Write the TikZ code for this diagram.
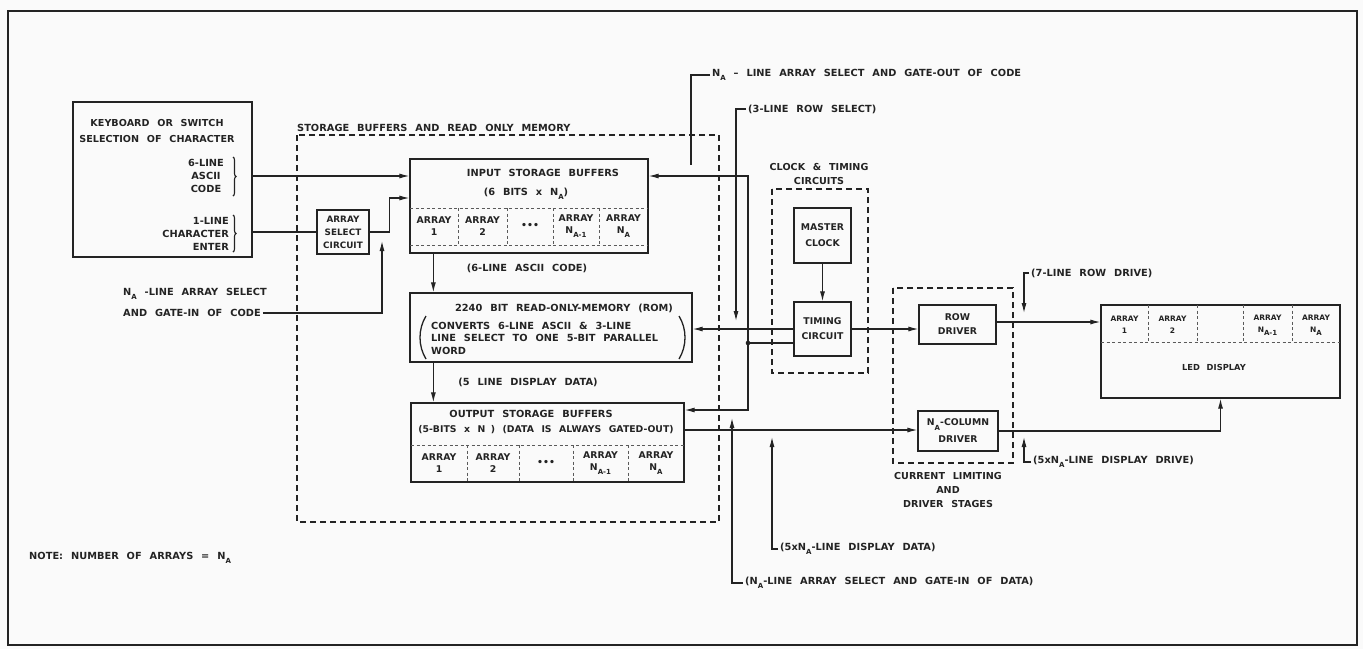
\documentclass[tikz,border=0pt]{standalone}
\usepackage{fontspec}
\setmainfont[UprightFont=* Bold, LetterSpace=0.3, WordSpace=2.3]{DejaVu Sans}
\usetikzlibrary{arrows.meta,decorations.pathreplacing}
\definecolor{inkc}{RGB}{35,35,35}
\definecolor{bgc}{RGB}{250,250,250}
\newcommand{\sbs}[1]{\raisebox{-0.8ex}{\fontsize{7}{7}\selectfont #1}}
\begin{document}
\begin{tikzpicture}[x=1pt,y=-1pt,
  frame/.style={draw=inkc, line width=1.4pt},
  box/.style={draw=inkc, line width=1.3pt, inner sep=0pt},
  grp/.style={draw=inkc, line width=2.8pt, dash pattern=on 6pt off 4pt},
  sep/.style={draw=inkc!75, line width=0.7pt, dash pattern=on 3pt off 2.5pt},
  wire/.style={draw=inkc, line width=1.1pt},
  arr/.style={wire, -{Latex[length=10pt,width=5pt]}},
  txt/.style={font=\fontsize{9.8}{13}\selectfont, text=inkc, inner sep=0pt, align=center},
  boxt/.style={box, txt},
  lbl/.style={txt, anchor=west, inner xsep=2pt},
  cell/.style={txt, font=\fontsize{9.3}{12}\selectfont},
  ledcell/.style={txt, font=\fontsize{7.5}{12}\selectfont},
  paren/.style={draw=inkc, line width=1.3pt}
]
\useasboundingbox (0,0) rectangle (1363,649);
\fill[bgc] (0,0) rectangle (1363,649);
\draw[frame] (8,11) rectangle (1357,645);

% ---- dashed groups
\draw[grp] (297,135) rectangle (719,522);
\node[txt, anchor=south west] (storagelbl) at (297,132) {STORAGE BUFFERS AND READ ONLY MEMORY};
\draw[grp] (772,189) rectangle (868,373);
\node[txt, font=\fontsize{9.6}{14}\selectfont] (clocklbl) at (819,174) {CLOCK \& TIMING\\CIRCUITS};
\draw[grp] (893,288) rectangle (1013,463);
\node[txt, font=\fontsize{9.6}{14}\selectfont] (curlbl) at (948,490) {CURRENT LIMITING\\AND\\DRIVER STAGES};

% ---- keyboard
\node[box, minimum width=179pt, minimum height=155pt] (kb) at (162.5,179.5) {};
\node[txt, font=\fontsize{9.6}{16}\selectfont] (kbtitle) at (157,131) {KEYBOARD OR SWITCH\\SELECTION OF CHARACTER};
\node[txt] (kbascii) at (206,176) {6-LINE\\ASCII\\CODE};
\node[txt, align=right, anchor=east] (kbenter) at (229,234) {1-LINE\\CHARACTER\\ENTER};
\draw[paren, line width=1.1pt, decorate, decoration={brace, amplitude=3pt}] (233,157) -- (233,196);
\draw[paren, line width=1.1pt, decorate, decoration={brace, amplitude=3pt}] (233,215) -- (233,252);

% ---- array select
\node[boxt, minimum width=52pt, minimum height=44pt, font=\fontsize{8.8}{13}\selectfont] (asel) at (343,232) {ARRAY\\SELECT\\CIRCUIT};

% ---- input storage buffers
\node[box, minimum width=238pt, minimum height=94pt] (inbuf) at (529,206) {};
\node[txt] (inbuftitle) at (543,173) {INPUT STORAGE BUFFERS};
\node[txt] (inbufsub) at (526,194) {(6 BITS x N\sbs{A})};
\draw[sep] (410,208) -- (648,208);
\draw[sep] (410,245) -- (648,245);
\foreach \x in {458,507,553,599} \draw[sep] (\x,208) -- (\x,245);
\node[cell] (ia1) at (434,226) {ARRAY\\1};
\node[cell] (ia2) at (482.5,226) {ARRAY\\2};
\node[cell] (ia3) at (530,226) {•••};
\node[cell] (ia4) at (576,226) {ARRAY\\N\sbs{A-1}};
\node[cell] (ia5) at (623.5,226) {ARRAY\\N\sbs{A}};

% ---- ROM
\node[box, minimum width=282pt, minimum height=69pt] (rom) at (551,327.5) {};
\node[txt] (romtitle) at (564,308) {2240 BIT READ-ONLY-MEMORY (ROM)};
\node[txt, align=left, anchor=west, font=\fontsize{9.8}{12.5}\selectfont] (romtxt) at (431,338) {CONVERTS 6-LINE ASCII \& 3-LINE\\LINE SELECT TO ONE 5-BIT PARALLEL\\WORD};
\draw[paren] (426,316) .. controls (418,329) and (418,346) .. (426,359);
\draw[paren] (679,316) .. controls (687,329) and (687,346) .. (679,359);

% ---- output storage buffers
\node[box, minimum width=273pt, minimum height=79pt] (outbuf) at (547.5,442.5) {};
\node[txt] (outtitle) at (531,414) {OUTPUT STORAGE BUFFERS};
\node[txt, font=\fontsize{9.3}{13}\selectfont] (outsub) at (546,431) {(5-BITS x N\phantom{\sbs{A}}) (DATA IS ALWAYS GATED-OUT)};
\draw[sep] (411,445) -- (684,445);
\foreach \x in {467,519,573,628} \draw[sep] (\x,445) -- (\x,482);
\node[cell] (oa1) at (439,463) {ARRAY\\1};
\node[cell] (oa2) at (493,463) {ARRAY\\2};
\node[cell] (oa3) at (546,463) {•••};
\node[cell] (oa4) at (600.5,463) {ARRAY\\N\sbs{A-1}};
\node[cell] (oa5) at (656,463) {ARRAY\\N\sbs{A}};

% ---- clock & timing
\node[boxt, minimum width=57pt, minimum height=55pt, font=\fontsize{9.3}{16}\selectfont] (master) at (822.5,235.5) {MASTER\\CLOCK};
\node[boxt, minimum width=57pt, minimum height=54pt, font=\fontsize{9.3}{15}\selectfont] (timing) at (822.5,329) {TIMING\\CIRCUIT};

% ---- drivers
\node[boxt, minimum width=77pt, minimum height=39pt, font=\fontsize{9.3}{14}\selectfont] (rowdrv) at (957.5,324.5) {ROW\\DRIVER};
\node[boxt, minimum width=80pt, minimum height=40pt, font=\fontsize{9.3}{17}\selectfont] (coldrv) at (958,431) {N\sbs{A}-COLUMN\\DRIVER};

% ---- LED display
\node[box, minimum width=239pt, minimum height=93pt] (led) at (1220.5,351.5) {};
\draw[sep] (1101,342) -- (1340,342);
\foreach \x in {1148,1197,1243,1292} \draw[sep] (\x,305) -- (\x,342);
\node[ledcell] (la1) at (1124.5,325) {ARRAY\\1};
\node[ledcell] (la2) at (1172.5,325) {ARRAY\\2};
\node[ledcell] (la4) at (1267.5,325) {ARRAY\\N\sbs{A-1}};
\node[ledcell] (la5) at (1316,325) {ARRAY\\N\sbs{A}};
\node[txt, font=\fontsize{8.3}{10}\selectfont] (ledlbl) at (1214,367) {LED DISPLAY};

% ---- note
\node[lbl] (note) at (27,558) {NOTE: NUMBER OF ARRAYS = N\sbs{A}};

% ---- main connectors
\coordinate (y1) at (0,176);
\draw[arr] (kb.east |- y1) -- (inbuf.west |- y1);
\draw[wire] (kb.east |- asel.west) -- (asel.west);
\coordinate (y2) at (0,198);
\draw[arr] (asel.east) -- ++(20,0) |- (inbuf.west |- y2);
\draw[arr] ([xshift=24pt]inbuf.south west) -- ([xshift=24pt]rom.north west);
\draw[arr] ([xshift=24pt]rom.south west) -- ([xshift=23pt]outbuf.north west);
\node[txt] (asciilbl) at (527,268) {(6-LINE ASCII CODE)};
\node[txt] (dispdatalbl5) at (528,382) {(5 LINE DISPLAY DATA)};

\draw[arr] (timing.west) -- (rom.east |- timing.west);
\coordinate (jn) at (748,343);
\draw[wire] (timing.west |- jn) -- (jn);
\fill[inkc] (jn) circle (2.3pt);
\draw[arr] (jn) |- (inbuf.east |- y1);
\coordinate (y3) at (0,410);
\draw[arr] (jn) |- (outbuf.east |- y3);
\draw[arr] (master.south) -- (timing.north);
\draw[arr] (timing.east) -- (rowdrv.west |- timing.east);
\coordinate (y4) at (0,322);
\draw[arr] (rowdrv.east |- y4) -- (led.west |- y4);
\coordinate (y5) at (0,430);
\draw[arr] (outbuf.east |- y5) -- (coldrv.west |- y5);
\draw[arr] (coldrv.east) -| (led.south);

% ---- annotations
\node[txt, anchor=west] (gic1) at (123,294) {N\sbs{A} -LINE ARRAY SELECT};
\node[txt, anchor=west] (gic2) at (123,313) {AND GATE-IN OF CODE};
\coordinate (gicend) at (382,241);
\draw[arr] ([xshift=2pt]gic2.east) -| (gicend);

\node[lbl] (gateoutlbl) at (710,75) {N\sbs{A} – LINE ARRAY SELECT AND GATE-OUT OF CODE};
\coordinate (gateoutend) at (691,165);
\draw[wire] (gateoutlbl.west) -| (gateoutend);

\node[lbl] (rowsellbl) at (746,109) {(3-LINE ROW SELECT)};
\coordinate (rowselend) at (736,321);
\draw[arr] (rowsellbl.west) -| (rowselend);

\node[lbl] (rowdrvlbl) at (1029,273) {(7-LINE ROW DRIVE)};
\coordinate (rowdrvend) at (1024,313);
\draw[arr] (rowdrvlbl.west) -| (rowdrvend);

\node[lbl] (dispdrvlbl) at (1031,462) {(5xN\sbs{A}-LINE DISPLAY DRIVE)};
\coordinate (dispdrvend) at (1024,437);
\draw[arr] (dispdrvlbl.west) -| (dispdrvend);

\node[lbl] (dispdatalbl) at (778,549) {(5xN\sbs{A}-LINE DISPLAY DATA)};
\coordinate (dispdataend) at (772,437);
\draw[arr] (dispdatalbl.west) -| (dispdataend);

\node[lbl] (gidlbl) at (743,583) {(N\sbs{A}-LINE ARRAY SELECT AND GATE-IN OF DATA)};
\coordinate (gidend) at (732,418);
\draw[arr] (gidlbl.west) -| (gidend);
\end{tikzpicture}
\end{document}
